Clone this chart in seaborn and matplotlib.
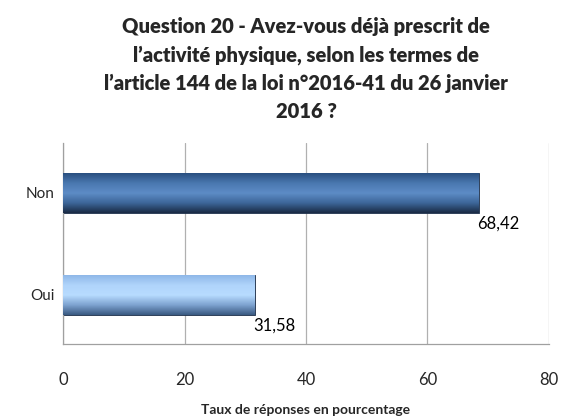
import numpy as np
import pandas as pd
import matplotlib
matplotlib.use('Agg')
import matplotlib.pyplot as plt
import seaborn as sns
from matplotlib.colors import LinearSegmentedColormap

# Données
reponses = ['Non', 'Oui']
taux = [68.42, 31.58]
etiquettes = ['68,42', '31,58']
graduations = [0, 20, 40, 60, 80]

titre = ("Question 20 - Avez-vous déjà prescrit de\n"
         "l’activité physique, selon les termes de\n"
         "l’article 144 de la loi n°2016-41 du 26 janvier\n"
         "2016 ?")

sns.set_style('white')
plt.rcParams['font.family'] = ['Lato', 'DejaVu Sans']

df = pd.DataFrame({'reponse': reponses, 'taux': taux})

fig = plt.figure(figsize=(5.63, 4.19), dpi=100)
ax = fig.add_axes([0.112, 0.179, 0.863, 0.48])

sns.barplot(data=df, x='taux', y='reponse', orient='h', width=0.39,
            color='#4f81bd', ax=ax)

# degradés façon Excel
degrades = [
    ['#2a4f80', '#4a78b0', '#5d8cc6', '#3d6699', '#1a2b45'],
    ['#8fb8e8', '#b0d4fb', '#b8dcff', '#7ea3d0', '#3a5a82'],
]
for patch, couleurs in zip(ax.patches, degrades):
    x0, y0 = patch.get_x(), patch.get_y()
    w, h = patch.get_width(), patch.get_height()
    cmap = LinearSegmentedColormap.from_list('g', couleurs)
    grad = np.linspace(0, 1, 100).reshape(-1, 1)
    im = ax.imshow(grad, cmap=cmap, aspect='auto',
                   extent=[x0, x0 + w, y0 + h, y0], zorder=3)
    im.set_clip_path(patch)
    patch.set_edgecolor('#1a2b45')
    patch.set_linewidth(0.6)

for patch, txt in zip(ax.patches, etiquettes):
    ax.text(patch.get_x() + patch.get_width() - 0.3,
            patch.get_y() + patch.get_height() + 0.03, txt,
            ha='left', va='top', fontsize=12, color='black', zorder=4)

ax.set_xlim(0, 80)
ax.set_ylim(1.48, -0.49)
ax.set_xticks(graduations)
ax.set_xticklabels([str(g) for g in graduations], fontsize=12)
ax.tick_params(axis='x', pad=20, length=0)
ax.tick_params(axis='y', length=0, labelsize=11, pad=6)
ax.grid(axis='x', color='#b0b0b0', linewidth=0.9, zorder=0)
ax.set_axisbelow(True)
for s in ['top', 'right']:
    ax.spines[s].set_visible(False)
for s in ['left', 'bottom']:
    ax.spines[s].set_color('#a0a0a0')
    ax.spines[s].set_linewidth(0.9)

ax.set_xlabel('Taux de réponses en pourcentage', fontsize=10,
              fontweight='bold', labelpad=12)
ax.set_ylabel('')
ax.set_title(titre, fontsize=14.5, fontweight='heavy', linespacing=1.55, pad=18)

fig.savefig('out.png', dpi=100)
